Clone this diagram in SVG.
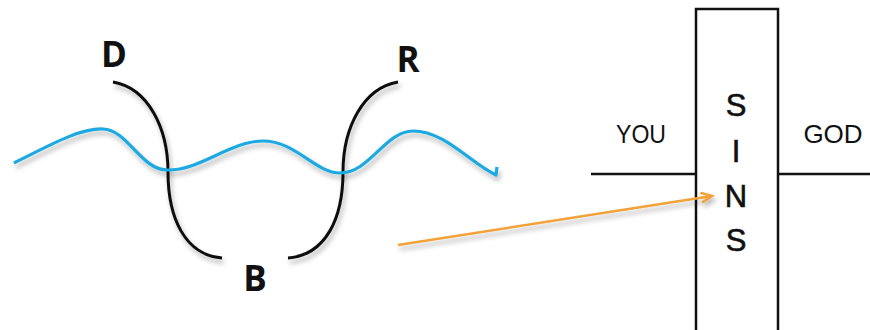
<svg xmlns="http://www.w3.org/2000/svg" width="870" height="330" viewBox="0 0 870 330">
<defs>
<style>
.lbl{font-family:"Open Sans","Liberation Sans",sans-serif;font-weight:bold;font-size:35px;fill:#111;text-anchor:middle}
.txt{font-family:"Liberation Sans",Arial,sans-serif;font-size:26px;fill:#111;text-anchor:middle}
.sins{font-family:"Liberation Sans",Arial,sans-serif;font-size:31px;fill:#111;stroke:#111;stroke-width:0.6;text-anchor:middle}
.arc{fill:none;stroke:#111;stroke-width:3;stroke-linecap:butt}
.box{fill:none;stroke:#111;stroke-width:2.5}
</style>
<filter id="sh" x="-10%" y="-50%" width="120%" height="200%">
<feDropShadow dx="2" dy="4" stdDeviation="2.5" flood-color="#000" flood-opacity="0.3"/>
</filter>
<marker id="ah" markerWidth="14" markerHeight="14" refX="11" refY="6" orient="auto" markerUnits="userSpaceOnUse">
<path d="M0,1 L11,6 L0,11" fill="none" stroke="#F2A23A" stroke-width="2.5"/>
</marker>
</defs>
<rect width="870" height="330" fill="#fff"/>
<g id="cross">
<rect class="box" x="696" y="9" width="82" height="330"/>
<line class="box" x1="591" y1="174" x2="696" y2="174"/>
<line class="box" x1="778" y1="174" x2="870" y2="174"/>
<text class="txt" x="641" y="143" textLength="50" lengthAdjust="spacingAndGlyphs">YOU</text>
<text class="txt" x="833" y="143">GOD</text>
<text class="sins" x="736" y="116">S</text>
<text class="sins" x="736" y="162">I</text>
<text class="sins" x="736" y="207">N</text>
<text class="sins" x="736" y="251">S</text>
</g>
<g id="arcs" filter="url(#sh)">
<path class="arc" d="M113,82 C148,88 168,128 168,172 C168,218 185,255 222,258"/>
<path class="arc" d="M398,82 C363,88 343,128 343,172 C343,218 326,255 288,258"/>
</g>
<g id="wave" filter="url(#sh)">
<path d="M14,163 C50,145 80,128 103,129 C128,130 140,169 167,170 C200,171 230,141 263,141 C296,141 315,173 340,173 C370,173 385,131 413,131 C445,131 470,163 496,175 L497,167" fill="none" stroke="#1BA9E1" stroke-width="3.2" stroke-linejoin="round"/>
</g>
<g id="labels">
<text class="lbl" x="114" y="67">D</text>
<text class="lbl" x="408" y="72">R</text>
<text class="lbl" x="255" y="291">B</text>
</g>
<g id="connectors" filter="url(#sh)">
<line x1="398" y1="245" x2="712" y2="196" stroke="#F2A23A" stroke-width="2.5" marker-end="url(#ah)"/>
</g>
</svg>
